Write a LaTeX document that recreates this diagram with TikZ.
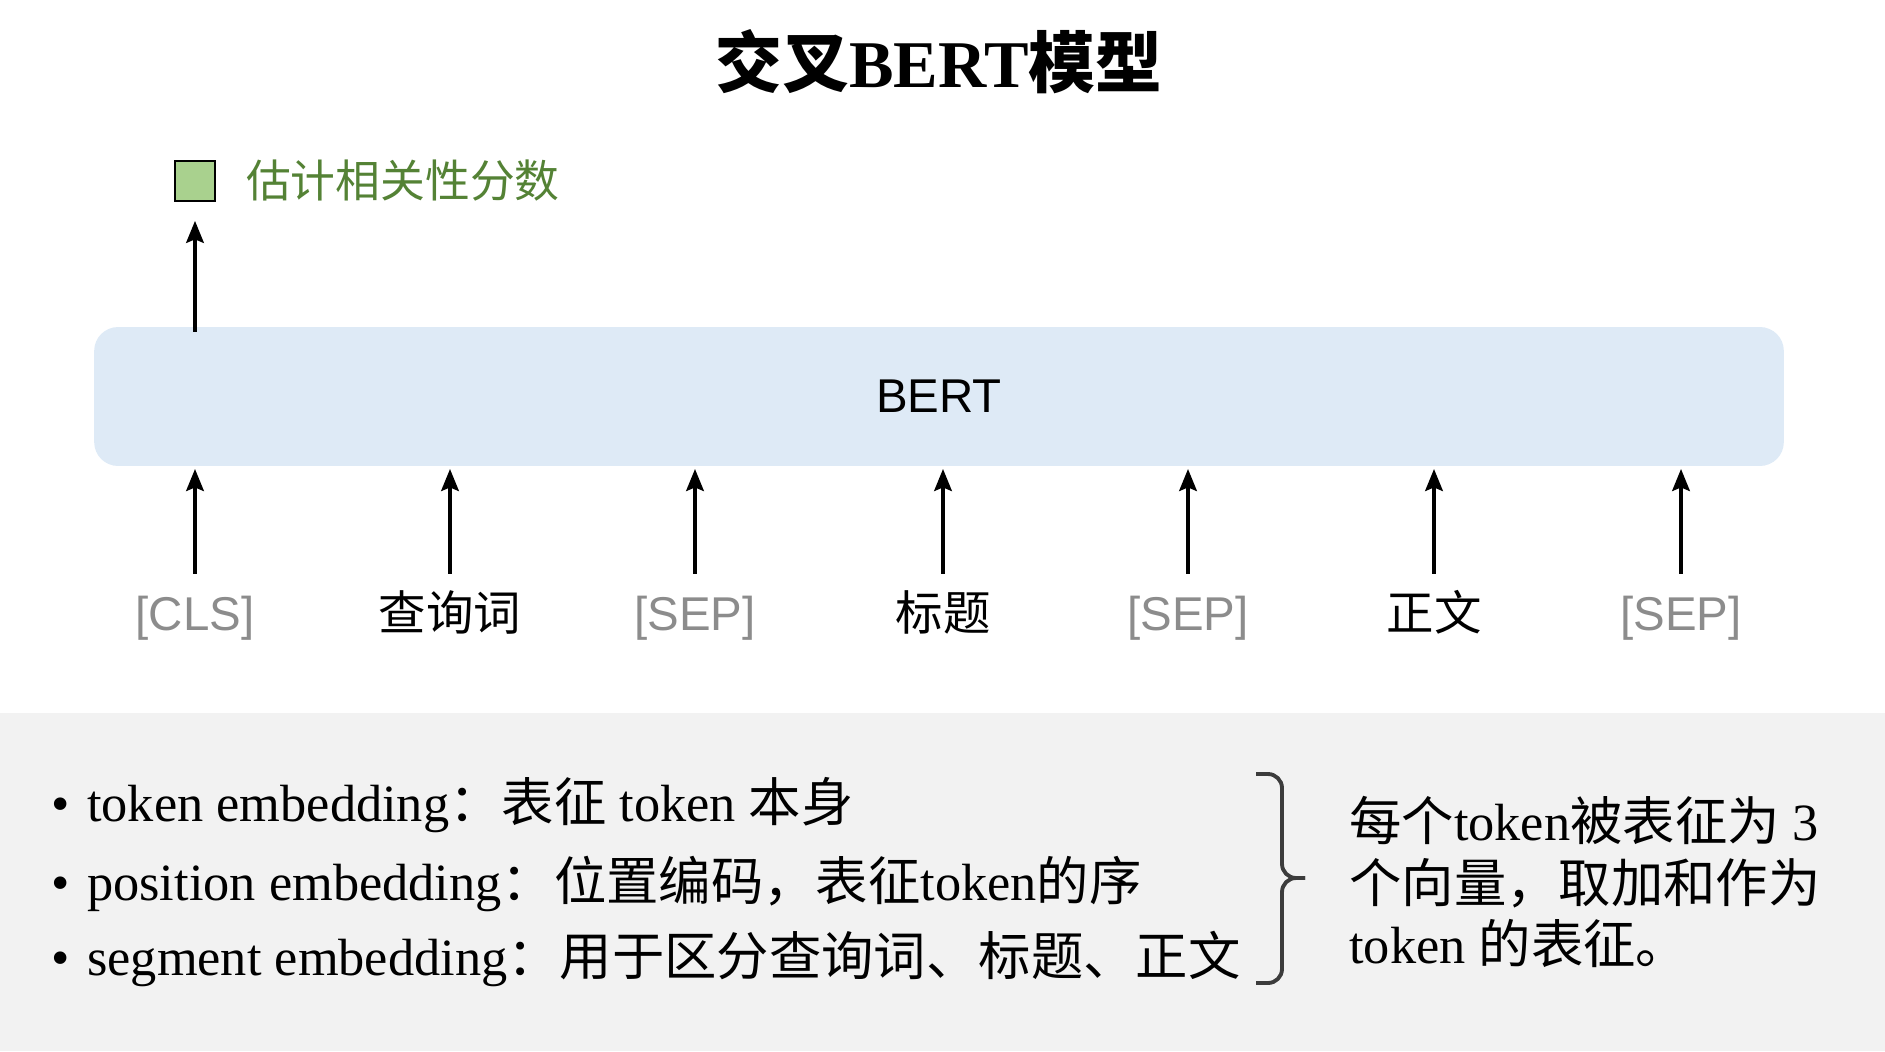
\documentclass[tikz,border=0pt]{standalone}
\usepackage{fontspec}
\setmainfont{Liberation Serif}
\setsansfont{Liberation Sans}
\newfontfamily\cjk{Noto Sans CJK SC}
\usetikzlibrary{arrows.meta,positioning}

\definecolor{scoregreen}{RGB}{84,130,53}
\definecolor{scorefill}{RGB}{169,209,142}
\definecolor{bertblue}{RGB}{222,234,246}
\definecolor{tokgray}{RGB}{140,140,140}
\definecolor{notegray}{RGB}{242,242,242}
\definecolor{bracegray}{RGB}{60,60,60}
\newcommand{\zh}[1]{{\cjk #1}}

\tikzset{
	up/.style={-{Stealth[length=12.5pt,width=10pt,inset=2pt]}, line width=2.1pt},
	tok/.style={inner sep=0pt, text height=19pt, text depth=6pt, font=\sffamily\fontsize{27pt}{30pt}\selectfont, text=tokgray},
	tokzh/.style={tok, font=\cjk\fontsize{27pt}{30pt}\selectfont, text=black},
	emb/.style={inner sep=0pt, anchor=west, font=\rmfamily\fontsize{29.8pt}{35pt}\selectfont},
}

\begin{document}
\begin{tikzpicture}[x=0.02cm,y=-0.02cm]
	\useasboundingbox (0,0) rectangle (1885,1051);
	\fill[notegray] (0,713) rectangle (1885,1051);
	%
	\node[font=\cjk\bfseries\fontsize{38pt}{41pt}\selectfont] (title) at (939,62) {交叉{\rmfamily\bfseries BERT}模型};
	%
	\node[draw=black, line width=1pt, fill=scorefill, minimum size=22.8pt, inner sep=0pt] (score) at (195,181) {};
	\node[right=17pt of score, inner sep=0pt, text=scoregreen, font=\cjk\fontsize{25.5pt}{28pt}\selectfont] (scorelabel) {估计相关性分数};
	%
	\node[fill=bertblue, rounded corners=13.6pt, minimum width=33.8cm, minimum height=2.78cm, font=\sffamily\fontsize{27pt}{30pt}\selectfont] (bert) at (939,396.5) {BERT};
	\draw[up, shorten <=-3pt, shorten >=10.8pt] (bert.north -| score) -- (score.south);
	%
	\node[tok] (tcls) at (195,619) {[CLS]};
	\node[tokzh] (tquery) at (450,619) {查询词};
	\node[tok] (tsep1) at (695,619) {[SEP]};
	\node[tokzh] (ttitle) at (943,619) {标题};
	\node[tok] (tsep2) at (1188,619) {[SEP]};
	\node[tokzh] (tbody) at (1434,619) {正文};
	\node[tok] (tsep3) at (1681,619) {[SEP]};
	\draw[up, shorten <=13pt, shorten >=1.5pt] (tcls.north) -- (tcls.north |- bert.south);
	\draw[up, shorten <=13pt, shorten >=1.5pt] (tquery.north) -- (tquery.north |- bert.south);
	\draw[up, shorten <=13pt, shorten >=1.5pt] (tsep1.north) -- (tsep1.north |- bert.south);
	\draw[up, shorten <=13pt, shorten >=1.5pt] (ttitle.north) -- (ttitle.north |- bert.south);
	\draw[up, shorten <=13pt, shorten >=1.5pt] (tsep2.north) -- (tsep2.north |- bert.south);
	\draw[up, shorten <=13pt, shorten >=1.5pt] (tbody.north) -- (tbody.north |- bert.south);
	\draw[up, shorten <=13pt, shorten >=1.5pt] (tsep3.north) -- (tsep3.north |- bert.south);
	%
	\node[emb] (emb1) at (51,805) {•\hspace{10pt}token embedding\zh{：表征} token \zh{本身}};
	\node[emb] (emb2) at (51,884) {•\hspace{10pt}position embedding\zh{：位置编码，表征}token\zh{的序}};
	\node[emb] (emb3) at (51,959) {•\hspace{10pt}segment embedding\zh{：用于区分查询词、标题、正文}};
	%
	\draw[bracegray, line width=2.2pt, rounded corners=8pt] (1256,774) -| (1282,878) -- (1305,878);
	\draw[bracegray, line width=2.2pt, rounded corners=8pt] (1305,878) -- (1282,878) |- (1256,983);
	\node[emb, align=left] (summary) at (1349,882) {\zh{每个}token\zh{被表征为} 3\\\zh{个向量，取加和作为}\\token \zh{的表征。}};
\end{tikzpicture}
\end{document}
